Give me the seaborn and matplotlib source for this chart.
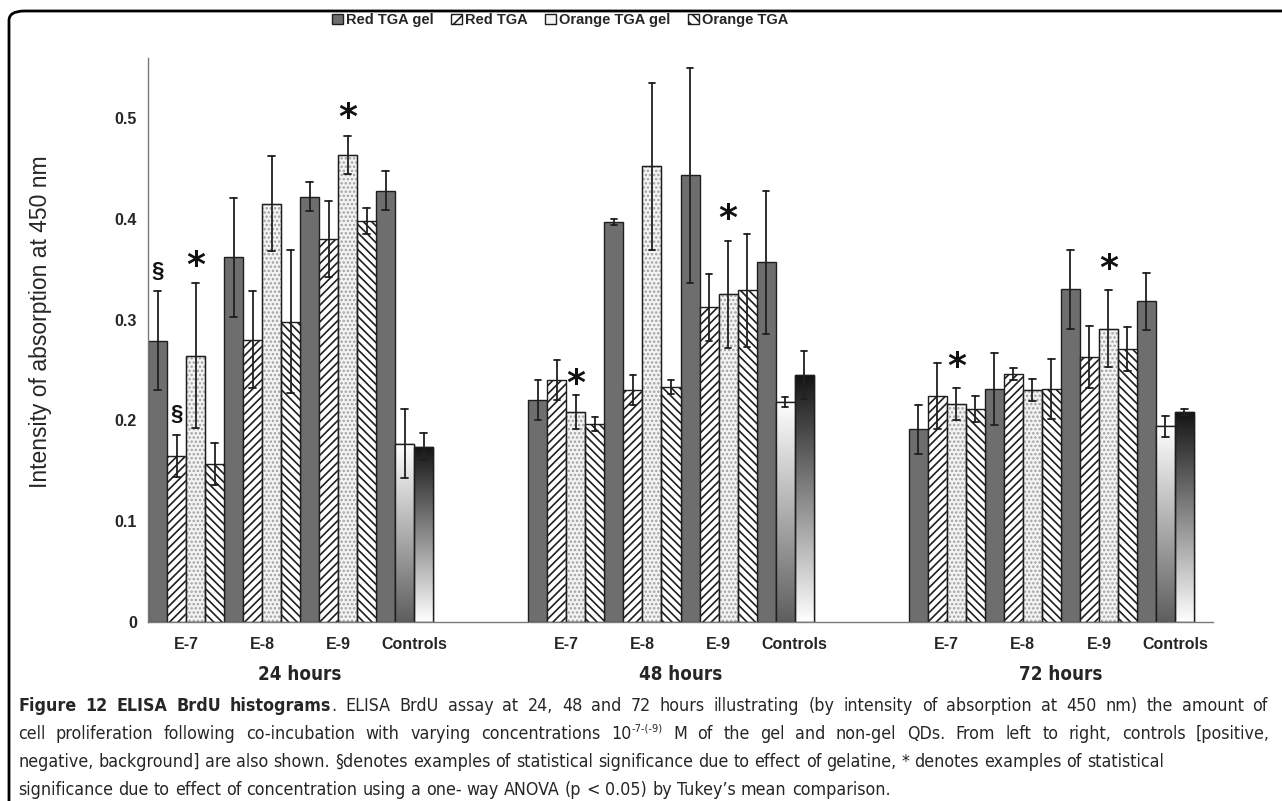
import numpy as np
import pandas as pd
import matplotlib
matplotlib.use("Agg")
import matplotlib.pyplot as plt
import seaborn as sns
from matplotlib import font_manager as fm
from matplotlib.font_manager import FontProperties
from matplotlib.patches import Patch, Rectangle, FancyBboxPatch
from matplotlib.colors import LinearSegmentedColormap
import matplotlib.transforms as mtransforms

# ---------------- data ----------------
timepoints = ["24 hours", "48 hours", "72 hours"]
concentrations = ["E-7", "E-8", "E-9"]
series = ["Red TGA gel", "Red TGA", "Orange TGA gel", "Orange TGA"]

# values per timepoint, ordered E-7, E-8, E-9
red_tga_gel = [[0.279, 0.362, 0.422], [0.220, 0.397, 0.443], [0.191, 0.231, 0.330]]
red_tga_gel_err = [[0.049, 0.059, 0.014], [0.020, 0.003, 0.107], [0.024, 0.036, 0.039]]
red_tga = [[0.165, 0.280, 0.380], [0.240, 0.230, 0.312], [0.224, 0.246, 0.263]]
red_tga_err = [[0.021, 0.048, 0.038], [0.020, 0.015, 0.033], [0.033, 0.006, 0.031]]
orange_tga_gel = [[0.264, 0.415, 0.463], [0.208, 0.452, 0.325], [0.216, 0.230, 0.291]]
orange_tga_gel_err = [[0.072, 0.047, 0.019], [0.017, 0.083, 0.053], [0.016, 0.011, 0.038]]
orange_tga = [[0.157, 0.298, 0.398], [0.196, 0.233, 0.329], [0.211, 0.231, 0.271]]
orange_tga_err = [[0.021, 0.071, 0.013], [0.007, 0.007, 0.056], [0.013, 0.030, 0.022]]

control_names = ["positive", "negative", "background"]
controls = [[0.428, 0.177, 0.174], [0.357, 0.218, 0.245], [0.318, 0.194, 0.208]]
controls_err = [[0.019, 0.034, 0.013], [0.071, 0.005, 0.024], [0.028, 0.010, 0.003]]

# significance marks: (timepoint, concentration, series, symbol, y)
marks = [
    ("24 hours", "E-7", "Red TGA gel", "§", 0.348),
    ("24 hours", "E-7", "Red TGA", "§", 0.206),
    ("24 hours", "E-7", "Orange TGA gel", "*", 0.353),
    ("24 hours", "E-9", "Orange TGA gel", "*", 0.500),
    ("48 hours", "E-7", "Orange TGA gel", "*", 0.236),
    ("48 hours", "E-9", "Orange TGA gel", "*", 0.400),
    ("72 hours", "E-7", "Orange TGA gel", "*", 0.253),
    ("72 hours", "E-9", "Orange TGA gel", "*", 0.350),
]

y_ticks = [0, 0.1, 0.2, 0.3, 0.4, 0.5]
y_tick_labels = ["0", "0.1", "0.2", "0.3", "0.4", "0.5"]

caption_bold = "Figure 12 ELISA BrdU histograms"
caption_line1 = ". ELISA BrdU assay at 24, 48 and 72 hours illustrating (by intensity of absorption at 450 nm) the amount of"
caption_line2a = "cell proliferation following co-incubation with varying concentrations 10"
caption_sup = "-7-(-9)"
caption_line2b = " M of the gel and non-gel QDs. From left to right, controls [positive,"
caption_line3 = "negative, background] are also shown. §denotes examples of statistical significance due to effect of gelatine, * denotes examples of statistical"
caption_line4 = "significance due to effect of concentration using a one- way ANOVA (p < 0.05) by Tukey\u2019s mean comparison."

# ---------------- fonts ----------------
sns.set_style("white")
names = {f.name for f in fm.fontManager.ttflist}
BASE = "Liberation Sans" if "Liberation Sans" in names else "DejaVu Sans"
plt.rcParams["font.family"] = [BASE, "DejaVu Sans"]
plt.rcParams["hatch.linewidth"] = 1.2


def _w(f):
    w = f.weight
    if isinstance(w, str):
        w = fm.weight_dict.get(w, 400)
    return int(w)


def narrow_font(bold):
    best, best_score = None, None
    for f in fm.fontManager.ttflist:
        nm = f.name.lower()
        cond = ("condensed" in nm) or ("narrow" in nm) or (
            str(f.stretch) in ("condensed", "semi-condensed", "extra-condensed", "ultra-condensed"))
        if not cond or f.style != "normal":
            continue
        w = _w(f)
        target = 700 if bold else 350
        if (bold and w < 600) or ((not bold) and w > 500):
            continue
        score = abs(w - target)
        if best_score is None or score < best_score:
            best, best_score = f, score
    if best is not None:
        return FontProperties(fname=best.fname)
    if bold:
        return FontProperties(family=BASE, weight="bold")
    return FontProperties(family=BASE)


FP_BOLD = narrow_font(True)
FP_REG = narrow_font(False)

# ---------------- build table ----------------
cat_order = []
rows = []
series_values = [red_tga_gel, red_tga, orange_tga_gel, orange_tga]
series_errs = [red_tga_gel_err, red_tga_err, orange_tga_gel_err, orange_tga_err]
for ti, tp in enumerate(timepoints):
    for ci, c in enumerate(concentrations):
        key = f"{tp}|{c}"
        cat_order.append(key)
        for si, s in enumerate(series):
            v = series_values[si][ti][ci]
            e = series_errs[si][ti][ci]
            rows.append((key, s, v - e))
            rows.append((key, s, v + e))
    key = f"{tp}|Controls"
    cat_order.append(key)
    for k in range(3):
        v = controls[ti][k]
        e = controls_err[ti][k]
        rows.append((key, series[k], v - e))
        rows.append((key, series[k], v + e))
    if ti < len(timepoints) - 1:
        cat_order.append(f"gap{ti}")
df = pd.DataFrame(rows, columns=["cat", "series", "value"])

# ---------------- figure ----------------
W, H = 1282, 801
fig = plt.figure(figsize=(W / 100, H / 100), dpi=100)
ax = fig.add_axes([148 / W, 1 - 622 / H, 1065 / W, (622 - 57.5) / H])

fills = ["#6e6e6e", "#ffffff", "#f4f4f4", "#ffffff"]
sns.barplot(
    data=df, x="cat", y="value", hue="series", order=cat_order, hue_order=series,
    estimator="mean", errorbar=("pi", 100), capsize=0.35, width=1.0, gap=0,
    palette=fills, saturation=1, edgecolor="#1e1e1e", linewidth=1.0,
    err_kws={"color": "#202020", "linewidth": 1.3}, legend=False, ax=ax,
)

ctrl_idx = [i for i, k in enumerate(cat_order) if k.endswith("Controls")]
neg_cmap = LinearSegmentedColormap.from_list("neg", ["#5e5e5e", "#ffffff"])
bg_cmap = LinearSegmentedColormap.from_list("bg", ["#ffffff", "#141414"])
grad = np.linspace(0, 1, 256).reshape(-1, 1)

for p in list(ax.patches):
    if not isinstance(p, Rectangle) or p.get_height() <= 0:
        continue
    x0, w, h = p.get_x(), p.get_width(), p.get_height()
    xc = x0 + w / 2
    cat = int(round(xc))
    slot = int(round((xc - cat) / w + 1.5))
    if cat in ctrl_idx and slot in (1, 2):
        p.set_hatch(None)
        cmap = neg_cmap if slot == 1 else bg_cmap
        im = ax.imshow(grad, extent=[x0, x0 + w, 0, h], origin="lower", aspect="auto",
                       cmap=cmap, vmin=0, vmax=1, zorder=1.5, interpolation="bilinear")
        im.set_clip_path(p)
        ax.add_patch(Rectangle((x0, 0), w, h, fill=False, edgecolor="#1e1e1e", lw=1.0, zorder=1.6))
    elif slot == 1:
        p.set_hatch("////")
    elif slot == 3:
        p.set_hatch("\\\\\\\\")
    elif slot == 2:
        p.set_hatch("....")
        p.set_edgecolor("#a0a0a0")
        ax.add_patch(Rectangle((x0, 0), w, h, fill=False, edgecolor="#1e1e1e", lw=1.0, zorder=1.6))

ax.set_xlim(-0.5, len(cat_order) - 0.5)
ax.set_ylim(0, 0.56)

# axes styling
for s in ["top", "right"]:
    ax.spines[s].set_visible(False)
for s in ["left", "bottom"]:
    ax.spines[s].set_color("#7a7a7a")
    ax.spines[s].set_linewidth(1.0)

ax.set_yticks(y_ticks)
ax.set_yticklabels(y_tick_labels, fontsize=11.5, fontweight="bold")
ax.tick_params(axis="y", direction="out", length=4, width=1, color="#7a7a7a", pad=4)

bounds = np.arange(-0.5, len(cat_order), 1.0)
ax.set_xticks(bounds)
ax.set_xticklabels([""] * len(bounds))
ax.tick_params(axis="x", which="major", direction="out", length=6, width=1, color="#7a7a7a")
lab_pos = [i for i, k in enumerate(cat_order) if "|" in k]
lab_txt = [cat_order[i].split("|")[1] for i in lab_pos]
ax.set_xticks(lab_pos, minor=True)
ax.set_xticklabels(lab_txt, minor=True, fontsize=11.5, fontweight="bold")
ax.tick_params(axis="x", which="minor", length=0, pad=11)
ax.set_xlabel("")
ax.set_ylabel("Intensity of absorption at 450 nm", fontsize=16.5)
ax.yaxis.set_label_coords(52 / W, 1 - 322 / H, transform=fig.transFigure)

# group labels
blend = mtransforms.blended_transform_factory(ax.transData, fig.transFigure)
for ti, tp in enumerate(timepoints):
    idxs = [i for i, k in enumerate(cat_order) if k.startswith(tp + "|")]
    xc = (min(idxs) + max(idxs)) / 2
    t = ax.text(xc, 1 - 674 / H, tp, transform=blend, ha="center", va="center",
                fontproperties=FP_BOLD)
    t.set_fontsize(13.5)

# significance marks
for tp, c, s, sym, yv in marks:
    ci = cat_order.index(f"{tp}|{c}")
    si = series.index(s)
    xc = ci + (si - 1.5) * 0.25
    if sym == "*":
        ax.text(xc, yv, sym, ha="center", va="center", fontsize=26, fontweight="bold",
                color="#111111", zorder=5, family="DejaVu Sans")
    else:
        ax.text(xc, yv, sym, ha="center", va="center", fontsize=16, fontweight="bold",
                color="#111111", zorder=5)

# legend
handles = [
    Patch(facecolor=fills[0], edgecolor="#1e1e1e"),
    Patch(facecolor="white", edgecolor="#1e1e1e", hatch="///"),
    Patch(facecolor="#f4f4f4", edgecolor="#1e1e1e"),
    Patch(facecolor="white", edgecolor="#1e1e1e", hatch="\\\\\\"),
]
fig.legend(handles, series, loc="center", bbox_to_anchor=(560 / W, 1 - 20 / H), ncol=4,
           frameon=False, handlelength=0.75, handleheight=0.75, handletextpad=0.2,
           columnspacing=1.2, borderpad=0, prop={"weight": "bold", "size": 10.5, "family": BASE})

# frame
frame = FancyBboxPatch((9 / W, -0.2), 1.2, 1 - 11 / H + 0.2,
                       boxstyle="round,pad=0,rounding_size=0.012", transform=fig.transFigure,
                       fill=False, edgecolor="black", linewidth=2.0, clip_on=False)
fig.add_artist(frame)

# ---------------- caption ----------------
renderer = fig.canvas.get_renderer()
x_start = 18
line_y = [706, 734, 762, 790]
line_target = [1268, 1270, 1128, 760]
line_justified = [True, True, False, False]


def tokens(text, style):
    return [[(wd, style)] for wd in text.split(" ")]


def join_tokens(a, b):
    if a and b:
        a[-1] = a[-1] + b[0]
        return a + b[1:]
    return a + b


line_tokens = [
    join_tokens(tokens(caption_bold, "bold"), tokens(caption_line1, "reg")),
    join_tokens(join_tokens(tokens(caption_line2a, "reg"), [[(caption_sup, "sup")]]),
                tokens(caption_line2b, "reg")),
    tokens(caption_line3, "reg"),
    tokens(caption_line4, "reg"),
]
line_tokens = [[[seg for seg in wd if seg[0] != ""] for wd in ln] for ln in line_tokens]
line_tokens = [[wd for wd in ln if wd] for ln in line_tokens]


def fp_for(style, fs):
    fp = (FP_BOLD if style == "bold" else FP_REG).copy()
    fp.set_size(fs * 0.62 if style == "sup" else fs)
    return fp


def seg_width(txt, style, fs):
    t = fig.text(0, 0, txt, fontproperties=fp_for(style, fs))
    w_ = t.get_window_extent(renderer).width
    t.remove()
    return w_


def natural_width(ln, fs):
    sp = seg_width("a a", "reg", fs) - seg_width("aa", "reg", fs)
    tot = sum(seg_width(s, st, fs) for wd in ln for s, st in wd)
    return tot + sp * (len(ln) - 1), sp


fs0 = 12.0
fits = []
for ln, xe in zip(line_tokens, line_target):
    nw, _ = natural_width(ln, fs0)
    fits.append(fs0 * (xe - x_start) / nw)
CAP_FS = float(np.mean(fits))

for li, ln in enumerate(line_tokens):
    fs = CAP_FS
    nw, sp = natural_width(ln, fs)
    limit = 1272 - x_start
    if nw > limit:
        fs = fs * limit / nw
        nw, sp = natural_width(ln, fs)
    gap = sp
    if line_justified[li] and len(ln) > 1:
        extra = (line_target[li] - x_start - nw) / (len(ln) - 1)
        gap = sp + max(0.0, min(extra, sp * 1.2))
    x = x_start
    y = line_y[li]
    for wd in ln:
        for s, st in wd:
            yy = y - fs * 0.42 if st == "sup" else y
            t = fig.text(x / W, 1 - yy / H, s, fontproperties=fp_for(st, fs),
                         va="center", ha="left")
            x = t.get_window_extent(renderer).x1
        x += gap

fig.savefig("out.png", dpi=100)
